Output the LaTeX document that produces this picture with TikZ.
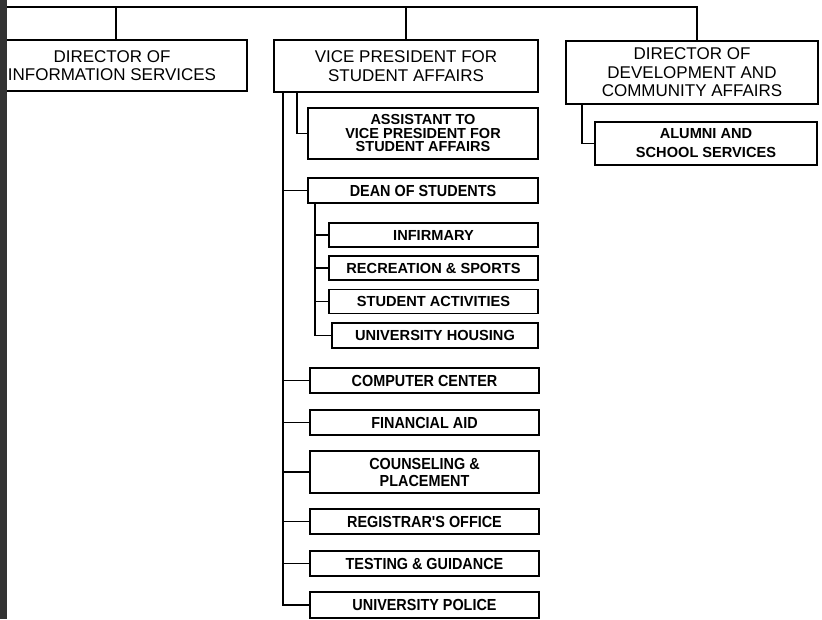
\documentclass[tikz,border=0pt]{standalone}
\usepackage{fontspec}
\setmainfont{Liberation Sans}
\newfontfamily\condfont[FakeStretch=0.9]{Liberation Sans}
\usetikzlibrary{positioning}
\tikzset{
    box/.style = {draw, rectangle, inner sep=0pt, outer sep=0pt, align=center},
    head/.style = {box, font=\fontsize{17}{18.5}\selectfont},% the three boxes under the top bar
    unit/.style = {box, font=\fontsize{14.6}{19}\selectfont\bfseries},% wide bold lettering
    CB/.style = {box, font=\fontsize{16}{17}\condfont\bfseries},% condensed bold lettering
    AB/.style = {box, font=\fontsize{14.5}{13.5}\selectfont\bfseries},
    DB/.style = {unit, minimum width=209pt, minimum height=24pt},% boxes under the dean
    VB/.style = {CB, minimum width=229pt, minimum height=25pt}% boxes under the vice president
}
\begin{document}
\begin{tikzpicture}[x=1pt, y=-1pt, line width=1.7pt]
  \useasboundingbox (0,0) rectangle (822,619);
  \clip (0,0) rectangle (822,619);
  % top row
  \node [head, minimum width=270pt, minimum height=51pt] (info) at (112,65.5) {DIRECTOR OF\\INFORMATION SERVICES};
  \node [head, minimum width=264pt, minimum height=52pt] (vp) at (406,66) {VICE PRESIDENT FOR\\STUDENT AFFAIRS};
  \node [head, minimum width=252pt, minimum height=63pt] (dev) at (692,72.5) {DIRECTOR OF\\DEVELOPMENT AND\\COMMUNITY AFFAIRS};
  \coordinate (barL) at (7,7);
  \draw (barL) -| ([xshift=5pt]dev.north);
  \draw ([xshift=4pt]info.north |- barL) -- ([xshift=4pt]info.north);
  \draw (vp.north |- barL) -- (vp.north);
  % development
  \node [unit, minimum width=222pt, minimum height=43pt] (alumni) at (706,143.5) {ALUMNI AND\\SCHOOL SERVICES};
  \draw ([xshift=16pt]dev.south west) |- (alumni.west);
  % student affairs
  \node [AB, minimum width=230pt, minimum height=51pt] (asst) at (423,133.5) {ASSISTANT TO\\VICE PRESIDENT FOR\\STUDENT AFFAIRS};
  \node [CB, minimum width=230pt, minimum height=25pt] (dean) at (423,190.5) {DEAN OF STUDENTS};
  \node [DB] (infirm) at (433.5,235) {INFIRMARY};
  \node [DB] (recr) at (433.5,268) {RECREATION \& SPORTS};
  \node [DB] (activ) at (433.5,301.5) {STUDENT ACTIVITIES};
  \node [DB, minimum width=206pt, minimum height=25pt] (housing) at (435,335.5) {UNIVERSITY HOUSING};
  \node [VB] (comp) at (424.5,380.5) {COMPUTER CENTER};
  \node [VB] (aid) at (424.5,422.5) {FINANCIAL AID};
  \node [VB, minimum height=42pt] (couns) at (424.5,472) {COUNSELING \&\\PLACEMENT};
  \node [VB] (reg) at (424.5,521.5) {REGISTRAR'S OFFICE};
  \node [VB] (test) at (424.5,563.5) {TESTING \& GUIDANCE};
  \node [VB, minimum height=26pt] (police) at (424.5,605) {UNIVERSITY POLICE};
  \draw ([xshift=23pt]vp.south west) |- (asst.west);
  \coordinate (trunk) at ([xshift=9pt]vp.south west);
  \draw (trunk) |- (police.west);
  \foreach \n in {dean, comp, aid, couns, reg, test}
    \draw (trunk |- \n.west) -- (\n.west);
  \coordinate (dtrunk) at ([xshift=7pt]dean.south west);
  \draw (dtrunk) |- (housing.west);
  \foreach \n in {infirm, recr, activ}
    \draw (dtrunk |- \n.west) -- (\n.west);
  % dark edge of the scanned page
  \fill [black!80] (0,0) rectangle (7,619);
\end{tikzpicture}
\end{document}
